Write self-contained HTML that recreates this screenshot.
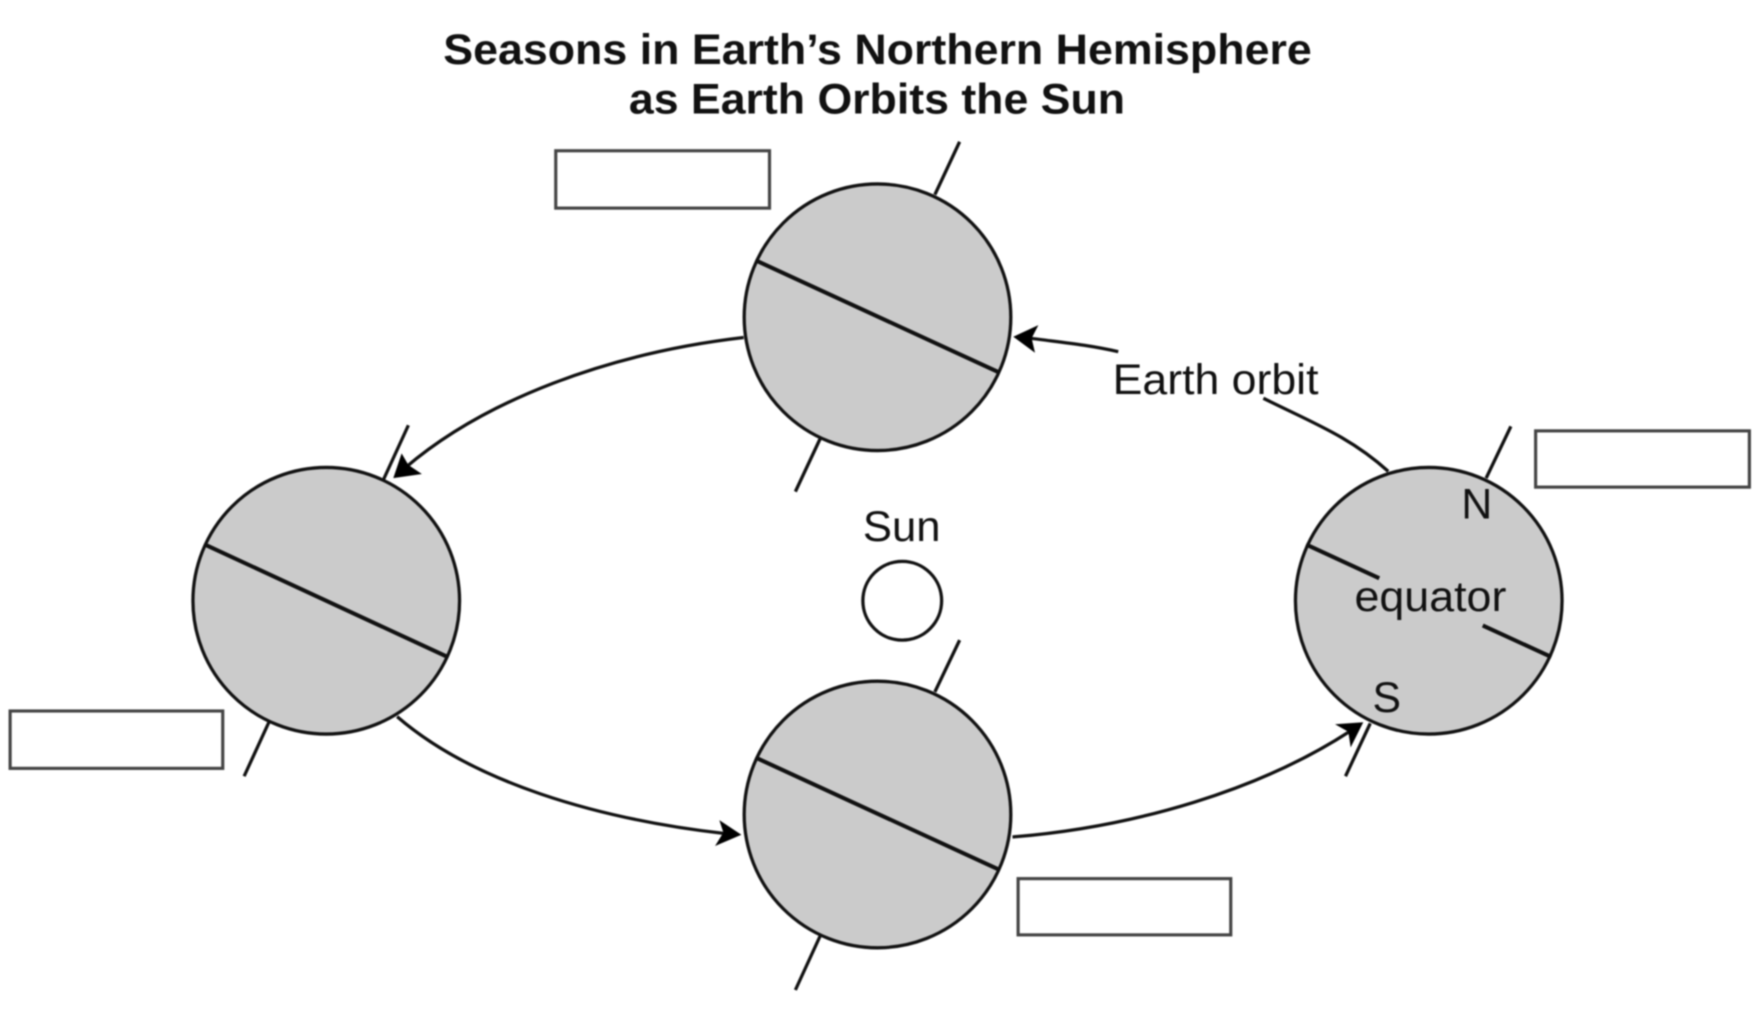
<!DOCTYPE html>
<html>
<head>
<meta charset="utf-8">
<style>
html,body{margin:0;padding:0;background:#fff;width:1764px;height:1026px;overflow:hidden}
svg{display:block;filter:blur(0.8px)}
text{font-family:"Liberation Sans",sans-serif;fill:#111}
.c{fill:#cbcbcb;stroke:#111;stroke-width:2.9}
.l{stroke:#111;stroke-width:2.9;fill:none}
.e{stroke:#111;stroke-width:3.6;fill:none}
.b{fill:#fff;stroke:#444;stroke-width:2.8}
.a{fill:#000}
</style>
</head>
<body>
<svg width="1764" height="1026" viewBox="0 0 1568 912" xmlns="http://www.w3.org/2000/svg">
<rect width="1568" height="912" fill="#fff"/>
<text x="394" y="57" font-size="38" font-weight="bold" textLength="772" lengthAdjust="spacingAndGlyphs" fill="#000">Seasons in Earth’s Northern Hemisphere</text>
<text x="559" y="101" font-size="38" font-weight="bold" textLength="441" lengthAdjust="spacingAndGlyphs" fill="#000">as Earth Orbits the Sun</text>

<rect class="b" x="494" y="134" width="190" height="51"/>
<rect class="b" x="1365" y="383" width="190" height="50"/>
<rect class="b" x="9" y="632" width="189" height="51"/>
<rect class="b" x="905" y="781" width="189" height="50"/>

<!-- axes -->
<path class="l" d="M853 126L831 173M729 390L707 437M363 378L341 426M239 642L217 690M853 569L831 615M729 832L707 880M1343 379L1321 425M1218 643L1196 690"/>

<!-- earths -->
<circle class="c" cx="780" cy="282" r="118.5"/>
<circle class="c" cx="290" cy="534" r="118.5"/>
<circle class="c" cx="780" cy="724" r="118.5"/>
<circle class="c" cx="1270" cy="534" r="118.5"/>
<circle cx="802" cy="534" r="35" fill="#fff" stroke="#111" stroke-width="2.9"/>

<!-- equators -->
<path class="e" d="M673 232L888 331M182 484L398 584M673 674L888 773M1161 484L1226 514M1318 556L1379 584"/>

<!-- orbit -->
<path class="l" d="M661 300C540 314 430 356 360 416"/>
<path class="a" d="M349.6 425L357 403L363 413.3L375 421.3Z"/>
<path class="l" d="M353 637C420 695 530 728 645 741"/>
<path class="a" d="M659 742L639.4 729L643 740L635.6 752Z"/>
<path class="l" d="M900 744C1010 735 1120 702 1200 650"/>
<path class="a" d="M1211.8 642L1186.7 643.8L1198.5 650.4L1200.6 664.3Z"/>
<path class="l" d="M1234 419C1200 388 1165 375 1123 354"/>
<path class="l" d="M994 312.6C965 306 940 304 915 300.5"/>
<path class="a" d="M900.7 299.3L923 289L917 300.7L920 313.5Z"/>

<!-- labels -->
<text x="989" y="350" font-size="38" textLength="183" lengthAdjust="spacingAndGlyphs">Earth orbit</text>
<text x="767" y="481" font-size="38" textLength="69" lengthAdjust="spacingAndGlyphs">Sun</text>
<text x="1204" y="543" font-size="38" textLength="135" lengthAdjust="spacingAndGlyphs">equator</text>
<text x="1299" y="461" font-size="38">N</text>
<text x="1220" y="633" font-size="38">S</text>
</svg>
</body>
</html>
